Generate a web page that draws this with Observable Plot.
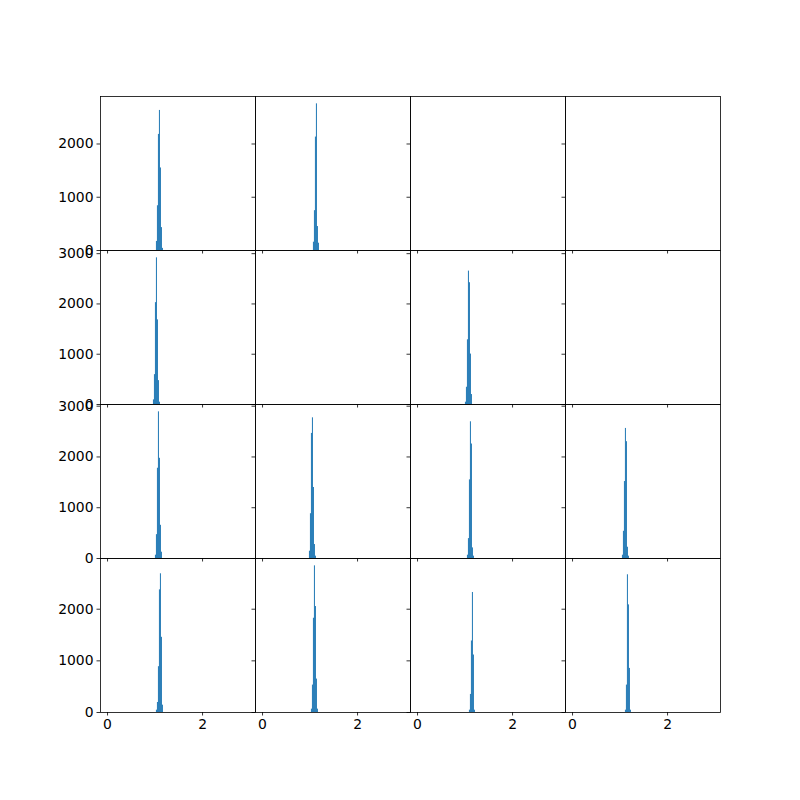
<!DOCTYPE html>
<html>
<head>
<meta charset="utf-8">
<script src="https://cdn.jsdelivr.net/npm/d3@7"></script>
<script src="https://cdn.jsdelivr.net/npm/@observablehq/plot@0.6"></script>
<style>
  html, body { margin: 0; padding: 0; background: white; }
  #fig { position: relative; width: 800px; height: 800px; background: white; overflow: hidden; }
  #fig svg { position: absolute; overflow: visible; }
</style>
</head>
<body>
<div id="fig"></div>
<script>
// ---- data ----
const HIST_RANGE = [0, 2.966];      // range covered by the histogram bins
const BIN_WIDTH = 0.021;
const X_TICKS = [0, 2];
const Y_TICKS = [0, 1000, 2000, 3000];
const N_ROWS = 4, N_COLS = 4;

// panels that hold a histogram (row, col)
const panelRow = [0, 0, 1, 1, 2, 2, 2, 2, 3, 3, 3, 3];
const panelCol = [0, 1, 0, 2, 0, 1, 2, 3, 0, 1, 2, 3];
// left edge of first non-empty bin in each panel
const binStart = [1.029, 1.071, 0.966, 1.008, 1.008, 0.987, 1.05, 1.05, 1.029, 1.029, 1.092, 1.113];
// counts of the consecutive bins
const binCounts = [
  [170, 840, 2180, 2630, 1550, 430, 40],
  [156, 748, 2130, 2754, 450, 137],
  [92, 594, 2026, 2917, 1683, 475, 46],
  [46, 343, 1287, 2653, 2422, 1003, 198],
  [65, 470, 1778, 2889, 1974, 654, 124],
  [144, 882, 2464, 2771, 1399, 275, 46],
  [65, 392, 1549, 2693, 2255, 209, 46],
  [65, 536, 1516, 2562, 2301, 222, 46],
  [45, 194, 887, 2375, 2686, 1456, 142],
  [65, 531, 1825, 2840, 2052, 647, 65],
  [45, 350, 1385, 2324, 1113, 45],
  [45, 531, 2667, 2084, 854, 45]
];

// ---- layout (matplotlib subplot grid) ----
const FIG = 800;
const axLeft = 0.125 * FIG, axRight = 0.9 * FIG, axTop = (1 - 0.88) * FIG, axBottom = (1 - 0.11) * FIG;
const cellW = (axRight - axLeft) / N_COLS, cellH = (axBottom - axTop) / N_ROWS;
const ML = 60, MR = 12, MT = 12, MB = 30;

const span = HIST_RANGE[1] - HIST_RANGE[0];
const xDomain = [HIST_RANGE[0] - 0.05 * span, HIST_RANGE[1] + 0.05 * span];

// build per-panel bin tables
const panels = panelRow.map((r, i) => ({
  row: r, col: panelCol[i],
  bins: binCounts[i].map((c, k) => ({
    x1: binStart[i] + k * BIN_WIDTH,
    x2: binStart[i] + (k + 1) * BIN_WIDTH,
    count: c
  }))
}));

// shared y per row
const rowMax = d3.range(N_ROWS).map(r =>
  d3.max(panels.filter(p => p.row === r).flatMap(p => p.bins), b => b.count) || 1);

const fig = document.getElementById("fig");
for (let r = 0; r < N_ROWS; r++) {
  for (let c = 0; c < N_COLS; c++) {
    const p = panels.find(q => q.row === r && q.col === c);
    const yMax = rowMax[r] * 1.05;
    const yTicks = Y_TICKS.filter(t => t <= yMax);
    const marks = [];
    if (p) {
      marks.push(Plot.rectY(p.bins, {x1: "x1", x2: "x2", y: "count", fill: "#1f77b4", inset: 0}));
    }
    marks.push(Plot.axisY(yTicks, {
      tickSize: 3.5, tickPadding: 3.5, strokeWidth: 0.8,
      tickFormat: c === 0 ? (d => String(d)) : (() => "")
    }));
    marks.push(Plot.axisX(X_TICKS, {
      tickSize: 3.5, tickPadding: 3.5, strokeWidth: 0.8,
      tickFormat: r === N_ROWS - 1 ? (d => String(d)) : (() => "")
    }));
    marks.push(Plot.frame({stroke: "black", strokeWidth: 0.8}));
    const svg = Plot.plot({
      width: cellW + ML + MR,
      height: cellH + MT + MB,
      marginLeft: ML, marginRight: MR, marginTop: MT, marginBottom: MB,
      style: {background: "transparent", fontFamily: "DejaVu Sans", fontSize: "13.9px", color: "black", overflow: "visible"},
      x: {domain: xDomain, label: null},
      y: {domain: [0, yMax], label: null},
      marks
    });
    svg.style.left = (axLeft + c * cellW - ML) + "px";
    svg.style.top = (axTop + r * cellH - MT) + "px";
    svg.style.maxWidth = "none";
    fig.appendChild(svg);
  }
}
</script>
</body>
</html>
